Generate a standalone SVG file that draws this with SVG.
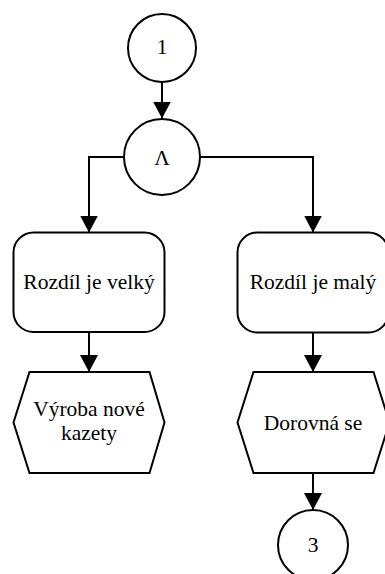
<svg xmlns="http://www.w3.org/2000/svg" width="385" height="574" viewBox="0 0 385 574">
  <style>
    .shape { fill: #ffffff; stroke: #000000; stroke-width: 2; }
    .wire { fill: none; stroke: #000000; stroke-width: 2; }
    .label { font-family: "Liberation Serif", "Times New Roman", serif; font-size: 21.5px; fill: #000000; text-anchor: middle; }
  </style>
  <defs>
    <marker id="arrow" markerUnits="userSpaceOnUse" markerWidth="18" markerHeight="18" refX="17" refY="9" orient="auto">
      <path d="M0,0 L17,9 L0,18 Z" fill="#000000"/>
    </marker>
  </defs>
  <rect width="385" height="574" fill="#ffffff"/>

  <!-- connectors -->
  <g id="connectors">
    <path class="wire" d="M162,82 L162,118.5" marker-end="url(#arrow)"/>
    <path class="wire" d="M124,157 L89,157 L89,232.5" marker-end="url(#arrow)"/>
    <path class="wire" d="M200,157 L313,157 L313,232.5" marker-end="url(#arrow)"/>
    <path class="wire" d="M89,332 L89,372" marker-end="url(#arrow)"/>
    <path class="wire" d="M313,333 L313,372" marker-end="url(#arrow)"/>
    <path class="wire" d="M313,473 L313,510" marker-end="url(#arrow)"/>
  </g>

  <!-- connector 1 -->
  <g id="start1">
    <circle class="shape" cx="162" cy="48" r="34"/>
    <text class="label" x="162" y="54">1</text>
  </g>

  <!-- AND junction -->
  <g id="and">
    <circle class="shape" cx="162" cy="157" r="38"/>
    <text class="label" x="162" y="165">Λ</text>
  </g>

  <!-- left branch -->
  <g id="bigDiff">
    <rect class="shape" x="13.5" y="232.5" width="151" height="99.5" rx="20" ry="20"/>
    <text class="label" x="89" y="289">Rozdíl je velký</text>
  </g>
  <g id="newCassette">
    <polygon class="shape" points="29.5,372 149.5,372 164.5,422.5 149.5,473 29.5,473 13.5,422.5"/>
    <text class="label" x="89" y="416">Výroba nové</text>
    <text class="label" x="89" y="440">kazety</text>
  </g>

  <!-- right branch -->
  <g id="smallDiff">
    <rect class="shape" x="237.5" y="232.5" width="151" height="100" rx="20" ry="20"/>
    <text class="label" x="313" y="289">Rozdíl je malý</text>
  </g>
  <g id="levelOut">
    <polygon class="shape" points="253.5,372 373.5,372 389.5,422.5 373.5,473 253.5,473 237.5,422.5"/>
    <text class="label" x="313" y="430">Dorovná se</text>
  </g>

  <!-- connector 3 -->
  <g id="end3">
    <circle class="shape" cx="313" cy="545" r="35"/>
    <text class="label" x="313" y="552">3</text>
  </g>
</svg>
